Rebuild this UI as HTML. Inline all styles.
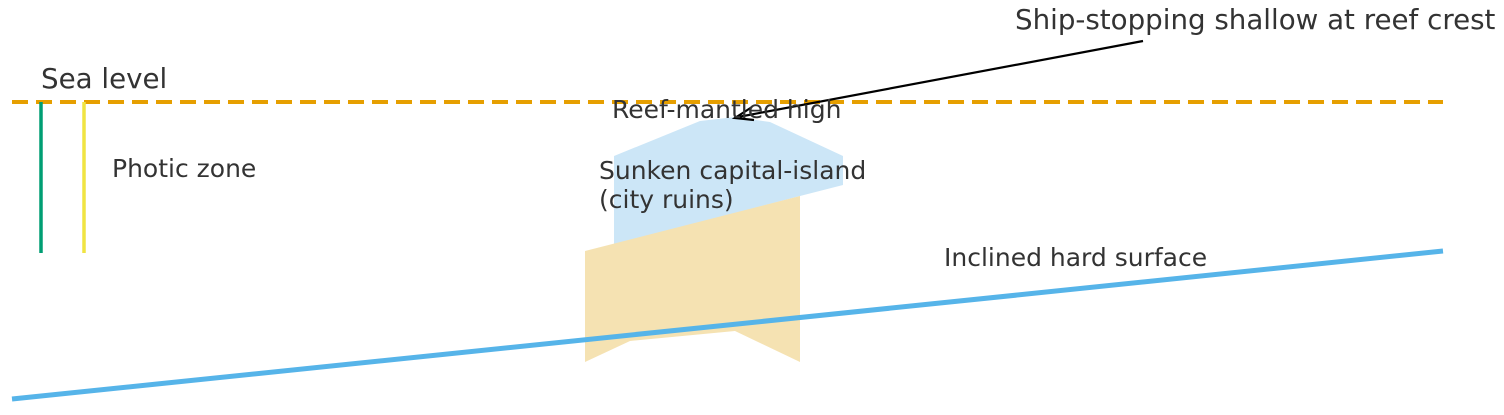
<!DOCTYPE html>
<html><head><style>
html,body{margin:0;padding:0;background:#fff;}
svg{display:block;}
text{font-family:"DejaVu Sans","Liberation Sans",sans-serif;fill:#333;}
</style></head><body>
<svg width="1504" height="415" viewBox="0 0 1504 415" xmlns="http://www.w3.org/2000/svg">
<polygon points="614,156 700,121 735,117 770,122 843,156 843,185 800,196 614,245" fill="#cce6f7"/>
<polygon points="585,251 800,196 800,362 735,331 630,341 585,362" fill="#f5e2b2"/>
<line x1="12" y1="102" x2="1443" y2="102" stroke="#E69F00" stroke-width="4" stroke-dasharray="16,8"/>
<line x1="41" y1="102" x2="41" y2="253" stroke="#009E73" stroke-width="3.5"/>
<line x1="84" y1="102" x2="84" y2="253" stroke="#F0E442" stroke-width="3.5"/>
<line x1="12" y1="399" x2="1443" y2="251" stroke="#56B4E9" stroke-width="5"/>
<line x1="1143" y1="41" x2="738" y2="117" stroke="#000" stroke-width="2.2"/>
<polyline points="752,107 735,118 754,120" fill="none" stroke="#000" stroke-width="2.2"/>
<text x="1015" y="29" font-size="27.7">Ship-stopping shallow at reef crest</text>
<text x="41" y="88" font-size="27.7">Sea level</text>
<text x="612" y="118" font-size="25">Reef-mantled high</text>
<text x="112" y="177" font-size="25">Photic zone</text>
<text x="599" y="179" font-size="25">Sunken capital-island</text>
<text x="599" y="208" font-size="25">(city ruins)</text>
<text x="944" y="266" font-size="25">Inclined hard surface</text>
</svg>
</body></html>
